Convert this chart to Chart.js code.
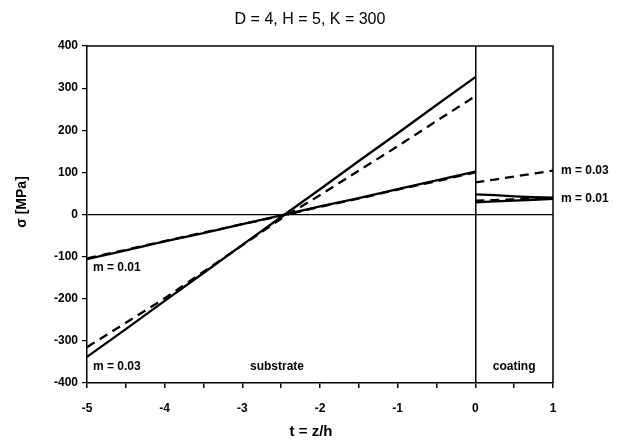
<!DOCTYPE html>
<html>
<head>
<meta charset="utf-8">
<script src="https://cdn.jsdelivr.net/npm/chart.js@4"></script>
<style>
  html, body { margin: 0; padding: 0; background: #fff; }
  #wrap { width: 617px; height: 443px; position: relative; }
</style>
</head>
<body>
<div id="wrap"><canvas id="c" width="617" height="443"></canvas></div>
<script>
/* stress profile sigma(t), substrate t in [-5, 0], coating t in [0, 1] */
var subT = [-5, -4.5, -4, -3.5, -3, -2.5, -2, -1.5, -1, -0.5, 0];
var subSolid03 = [-338, -272, -205, -139, -72, -6, 60, 127, 193, 260, 326];
var subDash03  = [-315, -257, -199, -136, -73, -10, 46, 104, 162, 222, 281];
var subSolid01 = [-106, -85, -64, -44, -23, -2, 19, 39, 60, 81, 102];
var subDash01  = [-104, -84, -63, -43, -23, -3, 18, 38, 59, 79, 100];

var coatT = [0, 0.25, 0.5, 0.75, 1];
var coatDash03  = [76, 83, 90, 97, 104];
var coatSolid03 = [48, 46, 43, 41, 40];
var coatDash01  = [33, 34, 36, 37, 38];
var coatSolid01 = [29, 31, 33, 35, 37];

var yTicks = [-400, -300, -200, -100, 0, 100, 200, 300, 400];

var FONT = '"Liberation Sans", Arial, sans-serif';

function pts(xs, ys) {
  return xs.map(function (x, i) { return { x: x, y: ys[i] }; });
}
function line(xs, ys, dashed) {
  return {
    data: pts(xs, ys),
    borderColor: '#000',
    borderWidth: 2.3,
    borderDash: dashed ? [9, 6] : [],
    pointRadius: 0,
    tension: 0,
    fill: false
  };
}

/* frame, annotations, axis titles */
var decor = {
  id: 'decor',
  afterDatasetsDraw: function (chart) {
    var ctx = chart.ctx, a = chart.chartArea;
    var xs = chart.scales.x;
    ctx.save();
    ctx.strokeStyle = '#000';
    ctx.lineWidth = 1.5;
    ctx.beginPath();
    ctx.moveTo(a.left, a.top); ctx.lineTo(a.right, a.top); ctx.lineTo(a.right, a.bottom);
    ctx.stroke();

    ctx.fillStyle = '#000';
    ctx.textBaseline = 'middle';
    ctx.font = 'bold 12px ' + FONT;
    ctx.textAlign = 'left';
    ctx.fillText('m = 0.01', xs.getPixelForValue(-5) + 6, 268);
    ctx.fillText('m = 0.03', xs.getPixelForValue(-5) + 6, 367);
    ctx.fillText('m = 0.03', a.right + 8, 171);
    ctx.fillText('m = 0.01', a.right + 8, 199);
    ctx.textAlign = 'center';
    ctx.fillText('substrate', 277, 367);
    ctx.fillText('coating', xs.getPixelForValue(0.5), 367);

    ctx.font = '16px ' + FONT;
    ctx.fillText('D = 4, H = 5, K = 300', 310, 20);

    ctx.font = 'bold 15px ' + FONT;
    ctx.fillText('t = z/h', 311, 432);

    ctx.translate(22, 202);
    ctx.rotate(-Math.PI / 2);
    ctx.font = 'bold 14px ' + FONT;
    ctx.fillText('\u03c3 [MPa]', 0, 0);
    ctx.restore();
  }
};

new Chart(document.getElementById('c'), {
  type: 'line',
  data: {
    datasets: [
      line(subT, subSolid03, false),
      line(subT, subDash03, true),
      line(subT, subSolid01, false),
      line(subT, subDash01, true),
      line(coatT, coatDash03, true),
      line(coatT, coatSolid03, false),
      line(coatT, coatDash01, true),
      line(coatT, coatSolid01, false)
    ]
  },
  options: {
    responsive: false,
    animation: false,
    layout: { padding: { top: 46, right: 64, bottom: 0, left: 0 } },
    plugins: { legend: { display: false }, tooltip: { enabled: false } },
    scales: {
      x: {
        type: 'linear', min: -5, max: 1,
        afterFit: function (s) { s.height = 60; },
        afterBuildTicks: function (s) {
          var t = [];
          for (var v = -5; v <= 1; v += 0.5) t.push({ value: v });
          s.ticks = t;
        },
        border: { color: '#000', width: 1.5 },
        grid: {
          color: function (c) { return c.tick && c.tick.value === 0 ? '#000' : 'rgba(0,0,0,0)'; },
          lineWidth: 1.5,
          tickColor: '#000',
          tickLength: 5
        },
        ticks: {
          color: '#000', padding: 13, maxRotation: 0, autoSkip: false,
          font: { family: FONT, size: 12, weight: 'bold' },
          callback: function (v) { return Number.isInteger(v) ? String(v) : ''; }
        }
      },
      y: {
        type: 'linear', min: -400, max: 400,
        afterFit: function (s) { s.width = 87; },
        afterBuildTicks: function (s) {
          s.ticks = yTicks.map(function (v) { return { value: v }; });
        },
        border: { color: '#000', width: 1.5 },
        grid: {
          color: function (c) { return c.tick && c.tick.value === 0 ? '#000' : 'rgba(0,0,0,0)'; },
          lineWidth: 1.2,
          tickColor: '#000',
          tickLength: 5
        },
        ticks: {
          color: '#000', padding: 4,
          font: { family: FONT, size: 12, weight: 'bold' }
        }
      }
    }
  },
  plugins: [decor]
});
</script>
</body>
</html>
